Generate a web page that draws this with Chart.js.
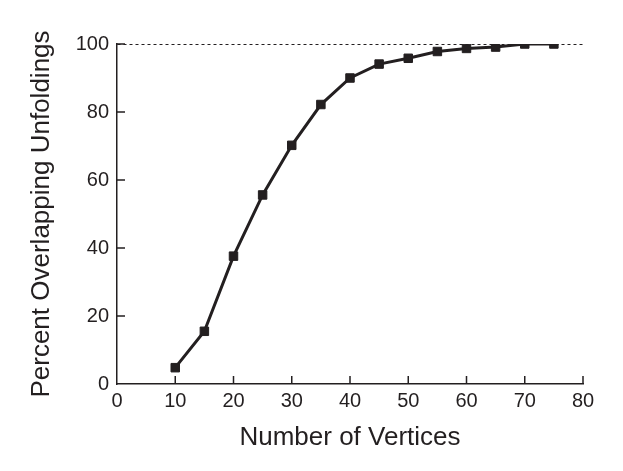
<!DOCTYPE html>
<html>
<head>
<meta charset="utf-8">
<script src="https://cdn.jsdelivr.net/npm/chart.js@4"></script>
<style>
  html, body { margin: 0; padding: 0; background: #fff; }
  #wrap { width: 623px; height: 471px; }
</style>
</head>
<body>
<div id="wrap"><canvas id="chart"></canvas></div>
<script>
const vertices = [10, 15, 20, 25, 30, 35, 40, 45, 50, 55, 60, 65, 70, 75]
const overlapPct = [4.8, 15.5, 37.6, 55.6, 70.2, 82.2, 90.0, 94.1, 95.8, 97.8, 98.7, 99.1, 100, 100]
const xTicks = [0, 10, 20, 30, 40, 50, 60, 70, 80]
const yTicks = [0, 20, 40, 60, 80, 100]

const ink = '#231f20'
const font = "'Liberation Sans', Arial, sans-serif"

// short tick marks pointing into the plot, like the printed figure
const innerTicks = {
    id: 'innerTicks',
    afterDraw(chart) {
        const { ctx, scales: { x, y } } = chart
        ctx.save()
        ctx.strokeStyle = ink
        ctx.lineWidth = 1.5
        ctx.beginPath()
        xTicks.slice(1).forEach(v => {
            const px = x.getPixelForValue(v)
            ctx.moveTo(px, y.bottom)
            ctx.lineTo(px, y.bottom - 8)
        })
        yTicks.slice(1).forEach(v => {
            const py = y.getPixelForValue(v)
            ctx.moveTo(x.left, py)
            ctx.lineTo(x.left + 8, py)
        })
        ctx.stroke()
        ctx.restore()
    }
}

new Chart(document.getElementById('chart'), {
    type: 'line',
    data: {
        datasets: [{
            data: vertices.map((v, i) => ({ x: v, y: overlapPct[i] })),
            borderColor: ink,
            backgroundColor: ink,
            borderWidth: 3,
            pointStyle: 'rect',
            pointRadius: 6,
            pointHoverRadius: 6,
            pointBorderWidth: 1,
            tension: 0
        }]
    },
    options: {
        responsive: true,
        maintainAspectRatio: false,
        animation: false,
        layout: { padding: { top: 44, right: 40, left: 22, bottom: 14 } },
        plugins: { legend: { display: false }, tooltip: { enabled: false } },
        scales: {
            x: {
                type: 'linear',
                min: 0,
                max: 80,
                afterBuildTicks: s => { s.ticks = xTicks.map(v => ({ value: v })) },
                afterFit: s => { s.height = 73 },
                grid: { display: false, drawTicks: false },
                border: { color: ink, width: 1.5 },
                ticks: { color: ink, padding: 5, font: { family: font, size: 20 } },
                title: {
                    display: true,
                    text: 'Number of Vertices',
                    color: ink,
                    font: { family: font, size: 26 },
                    padding: { top: 6 }
                }
            },
            y: {
                type: 'linear',
                min: 0,
                max: 100,
                afterBuildTicks: s => { s.ticks = yTicks.map(v => ({ value: v })) },
                afterFit: s => { s.width = 95 },
                grid: {
                    drawTicks: false,
                    lineWidth: 1,
                    color: c => c.tick && c.tick.value === 100 ? ink : 'rgba(0,0,0,0)'
                },
                border: { color: ink, width: 1.5, dash: [3, 3] },
                ticks: { color: ink, padding: 8, font: { family: font, size: 20 } },
                title: {
                    display: true,
                    text: 'Percent Overlapping Unfoldings',
                    color: ink,
                    font: { family: font, size: 26 },
                    padding: { bottom: 4 }
                }
            }
        }
    },
    plugins: [innerTicks]
})
</script>
</body>
</html>
